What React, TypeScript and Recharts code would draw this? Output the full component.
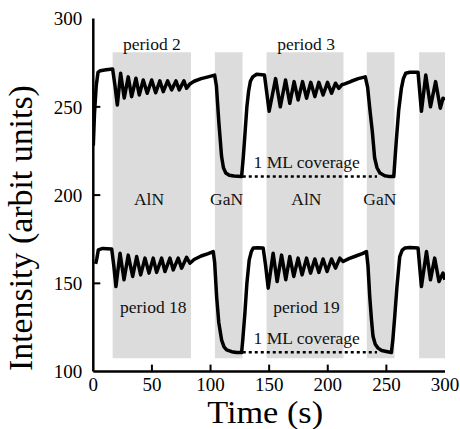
import React from 'react';
import { LineChart, Line, XAxis, YAxis, ReferenceArea, ReferenceLine, ReferenceDot } from 'recharts';

const FONT = "'Liberation Serif', 'Times New Roman', Times, serif";

const xTicks = [0, 50, 100, 150, 200, 250, 300];
const yTicks = [100, 150, 200, 250, 300];

const bandStarts = [16.5, 103.7, 147.8, 233.3, 277.9];
const bandEnds = [83.3, 127.3, 213.4, 256.9, 300];
const bandLow = 107.5;
const bandHigh = 281;

const upperCurve: [number, number][] = [
  [0, 228], [1, 246], [2.5, 262], [4, 269.5], [6, 270.5], [11, 271], [16.5, 271.5],
  [18.5, 262], [20.5, 251], [23.3, 269], [26.4, 255], [29.8, 267], [32.7, 255.8], [36.4, 266.2],
  [39.2, 256.7], [42.6, 265.2], [46, 257.7], [49.8, 265.2], [53.2, 258], [56.8, 264.7], [59.7, 258.6],
  [63.4, 264.7], [66.8, 259.6], [70.5, 264.7], [73.3, 259.6], [77.3, 264.7], [79.6, 260.5], [82.4, 263],
  [86, 264.5], [92, 266], [98, 267], [103.5, 268],
  [105, 262], [107, 242], [109.4, 222], [111, 215.5], [113, 212.5], [116, 211.2], [120, 210.8], [126.5, 210.5],
  [128, 222], [129.3, 234], [131, 250], [132.5, 259], [134, 264.5], [136, 267], [139.3, 268.5], [146, 268],
  [150, 247.5], [155.5, 266], [159.5, 250], [164, 265.2], [167.6, 252], [171.3, 264.3], [174.7, 253.9],
  [178.5, 264.3], [181.9, 254.9], [185.5, 263.9], [189, 255.8], [192.4, 263.9], [196, 256.7], [199.8, 263.9],
  [203.2, 257.7], [206.6, 263.4], [209.4, 260.5], [212, 262.5], [214.5, 263], [220, 264.5], [226, 266], [232, 267],
  [234, 261], [236, 248], [238, 236], [240, 221], [242, 215.5], [244.5, 212.5], [248.6, 211], [252, 210.6], [256.3, 210.5],
  [257.5, 222], [258.6, 232], [260.5, 248], [262.8, 260.5], [264.5, 266], [266.5, 269], [270, 269.6], [277, 269.6],
  [279.9, 247.5], [283.6, 268], [287.6, 250], [292, 264.3], [296, 249.2], [298.3, 254.9], [300, 254],
];

const lowerCurve: [number, number][] = [
  [2, 161], [3, 164], [4.3, 169], [8, 169.8], [15.7, 169.5],
  [17.5, 160], [19.3, 148.2], [22.8, 167], [26.2, 152], [29.8, 166], [33.6, 153.9], [37, 165.2], [40.4, 154.8],
  [44.1, 164.3], [47.5, 155.8], [51.1, 164.3], [54, 156.2], [58.3, 164.3], [61.1, 156.7], [65.4, 164.3],
  [68.2, 157.6], [72.4, 164.3], [75.3, 158.6], [79.6, 164.8], [82.4, 161.4], [86, 163.5], [92, 165.5], [98, 166.8], [102.3, 168],
  [103.5, 162], [105.2, 142.5], [107, 128], [109.4, 118], [111.5, 114], [113.7, 112.3], [118, 111.3], [122.2, 110.8], [126.5, 110.8],
  [127.5, 118], [129.3, 133], [131, 150], [133, 163.3], [134.8, 168], [136.4, 170], [140, 170.2], [144.9, 170],
  [147, 160], [149.2, 147.3], [153.4, 167], [156.8, 151], [160.6, 166], [164.2, 152], [167.6, 165.2], [171, 153.9],
  [174.7, 164.3], [178.1, 154.8], [181.9, 164.3], [185.3, 155.8], [189, 163.8], [192.4, 156.2], [196, 163.8],
  [199.4, 156.7], [203.2, 163.8], [206.6, 158.6], [210.3, 164.3], [213.1, 162.4], [218, 164], [224, 165.5], [230, 167], [233, 168],
  [234.3, 160], [235.8, 142.5], [237.2, 130], [238.6, 120], [240.5, 115.5], [242.9, 113.3], [246, 112], [250, 111.4], [254.3, 110.8],
  [255.5, 118], [257.1, 131], [259, 148], [261.4, 165.2], [263.5, 168.8], [265.7, 170], [270, 170.3], [277, 170],
  [279.9, 148.2], [284.2, 168], [287.6, 152], [291.2, 164.3], [294.9, 151], [298.3, 155.8], [300, 152],
];

const coverageLevels = [210.5, 111];
const coverageStart = 127.5;
const coverageEnd = 242;

const annotationTexts = ['period 2', 'period 3', 'AlN', 'GaN', 'AlN', 'GaN', 'period 18', 'period 19', '1 ML coverage', '1 ML coverage'];
const annotationT = [50, 181.5, 47.5, 113.7, 181.8, 244.4, 51.2, 181.8, 182, 182];
const annotationV = [282.2, 282.2, 194.4, 194.4, 194.4, 194.4, 133.1, 133.1, 215.3, 115.6];

const toRows = (pts: [number, number][]) => pts.map(([t, v]) => ({ t, v }));
const upperRows = toRows(upperCurve);
const lowerRows = toRows(lowerCurve);

const TICK_LEN = 7;
const TICK_W = 2;
const fontStyle = { fontFamily: FONT };

const BottomTick = (props: any) => {
  const { x, y, payload } = props;
  const inner = payload.value > 0 && payload.value < 300;
  return (
    <g>
      {inner && <line x1={x} x2={x} y1={y} y2={y - TICK_LEN} stroke="#000" strokeWidth={TICK_W} />}
      <text x={x} y={y + 19.5} textAnchor="middle" fontSize={19} style={fontStyle} fill="#000">
        {payload.value}
      </text>
    </g>
  );
};

const TopTick = (props: any) => {
  const { x, y, payload } = props;
  const inner = payload.value > 0 && payload.value < 300;
  return inner ? <line x1={x} x2={x} y1={y} y2={y + TICK_LEN} stroke="#000" strokeWidth={TICK_W} /> : <g />;
};

const LeftTick = (props: any) => {
  const { x, y, payload } = props;
  const inner = payload.value > 100 && payload.value < 300;
  return (
    <g>
      {inner && <line x1={x} x2={x + TICK_LEN} y1={y} y2={y} stroke="#000" strokeWidth={TICK_W} />}
      <text x={x - 11} y={y} dy="0.35em" textAnchor="end" fontSize={19} style={fontStyle} fill="#000">
        {payload.value}
      </text>
    </g>
  );
};

const RightTick = (props: any) => {
  const { x, y, payload } = props;
  const inner = payload.value > 100 && payload.value < 300;
  return inner ? <line x1={x} x2={x - TICK_LEN} y1={y} y2={y} stroke="#000" strokeWidth={TICK_W} /> : <g />;
};

const makeTextLabel = (text: string) => (props: any) => {
  const vb = props.viewBox || {};
  const cx = vb.x + (vb.width || 0) / 2;
  const cy = vb.y + (vb.height || 0) / 2;
  return (
    <text x={cx} y={cy} textAnchor="middle" fontSize={17.5} style={fontStyle} fill="#111">
      {text}
    </text>
  );
};

const YTitle = (props: any) => {
  const vb = props.viewBox;
  const x = vb.x - 1;
  const y = vb.y + vb.height / 2 + 33;
  return (
    <text
      x={x}
      y={y}
      transform={`rotate(-90 ${x} ${y})`}
      textAnchor="middle"
      fontSize={33}
      style={fontStyle}
      fill="#000"
      textLength={286}
      lengthAdjust="spacingAndGlyphs"
    >
      Intensity (arbit units)
    </text>
  );
};

const XTitle = (props: any) => {
  const vb = props.viewBox;
  const x = vb.x + vb.width / 2 - 4;
  const y = vb.y + 51.5;
  return (
    <text
      x={x}
      y={y}
      textAnchor="middle"
      fontSize={31}
      style={fontStyle}
      fill="#000"
      textLength={116}
      lengthAdjust="spacingAndGlyphs"
    >
      Time (s)
    </text>
  );
};

const axisLine = { stroke: '#000', strokeWidth: 2.5 };

export default function App() {
  return (
    <div style={{ position: 'absolute', left: 0, top: 0, width: 460, height: 429, background: '#fff' }}>
      <LineChart width={460} height={429} margin={{ top: 18.6, right: 15, bottom: 0, left: 33.3 }}>
        <XAxis
          dataKey="t"
          type="number"
          domain={[0, 300]}
          ticks={xTicks}
          interval={0}
          height={57.4}
          tickSize={0}
          tickMargin={0}
          axisLine={axisLine}
          tickLine={false}
          tick={<BottomTick />}
          allowDataOverflow
          label={XTitle}
        />
        <XAxis
          xAxisId="top"
          orientation="top"
          type="number"
          domain={[0, 300]}
          ticks={xTicks}
          interval={0}
          height={0}
          tickSize={0}
          tickMargin={0}
          axisLine={axisLine}
          tickLine={false}
          tick={<TopTick />}
        />
        <YAxis
          type="number"
          domain={[100, 300]}
          ticks={yTicks}
          interval={0}
          width={60}
          tickSize={0}
          tickMargin={0}
          axisLine={axisLine}
          tickLine={false}
          tick={<LeftTick />}
          allowDataOverflow
          label={YTitle}
        />
        <YAxis
          yAxisId="right"
          orientation="right"
          type="number"
          domain={[100, 300]}
          ticks={yTicks}
          interval={0}
          width={0}
          tickSize={0}
          tickMargin={0}
          axisLine={axisLine}
          tickLine={false}
          tick={<RightTick />}
        />
        {bandStarts.map((s, i) => (
          <ReferenceArea
            key={`band-${i}`}
            x1={s}
            x2={bandEnds[i]}
            y1={bandLow}
            y2={bandHigh}
            fill="#dcdcdc"
            fillOpacity={1}
            stroke="none"
          />
        ))}
        {coverageLevels.map((lv, i) => (
          <ReferenceLine
            key={`cov-${i}`}
            segment={[{ x: coverageStart, y: lv }, { x: coverageEnd, y: lv }]}
            stroke="#000"
            strokeWidth={2.5}
            strokeDasharray="3 3"
          />
        ))}
        {annotationTexts.map((txt, i) => (
          <ReferenceDot
            key={`ann-${i}`}
            x={annotationT[i]}
            y={annotationV[i]}
            r={0}
            fill="none"
            stroke="none"
            label={makeTextLabel(txt)}
          />
        ))}
        <Line
          data={upperRows}
          dataKey="v"
          type="linear"
          stroke="#000"
          strokeWidth={3.5}
          strokeLinejoin="round"
          dot={false}
          activeDot={false}
          isAnimationActive={false}
        />
        <Line
          data={lowerRows}
          dataKey="v"
          type="linear"
          stroke="#000"
          strokeWidth={3.5}
          strokeLinejoin="round"
          dot={false}
          activeDot={false}
          isAnimationActive={false}
        />
      </LineChart>
    </div>
  );
}
